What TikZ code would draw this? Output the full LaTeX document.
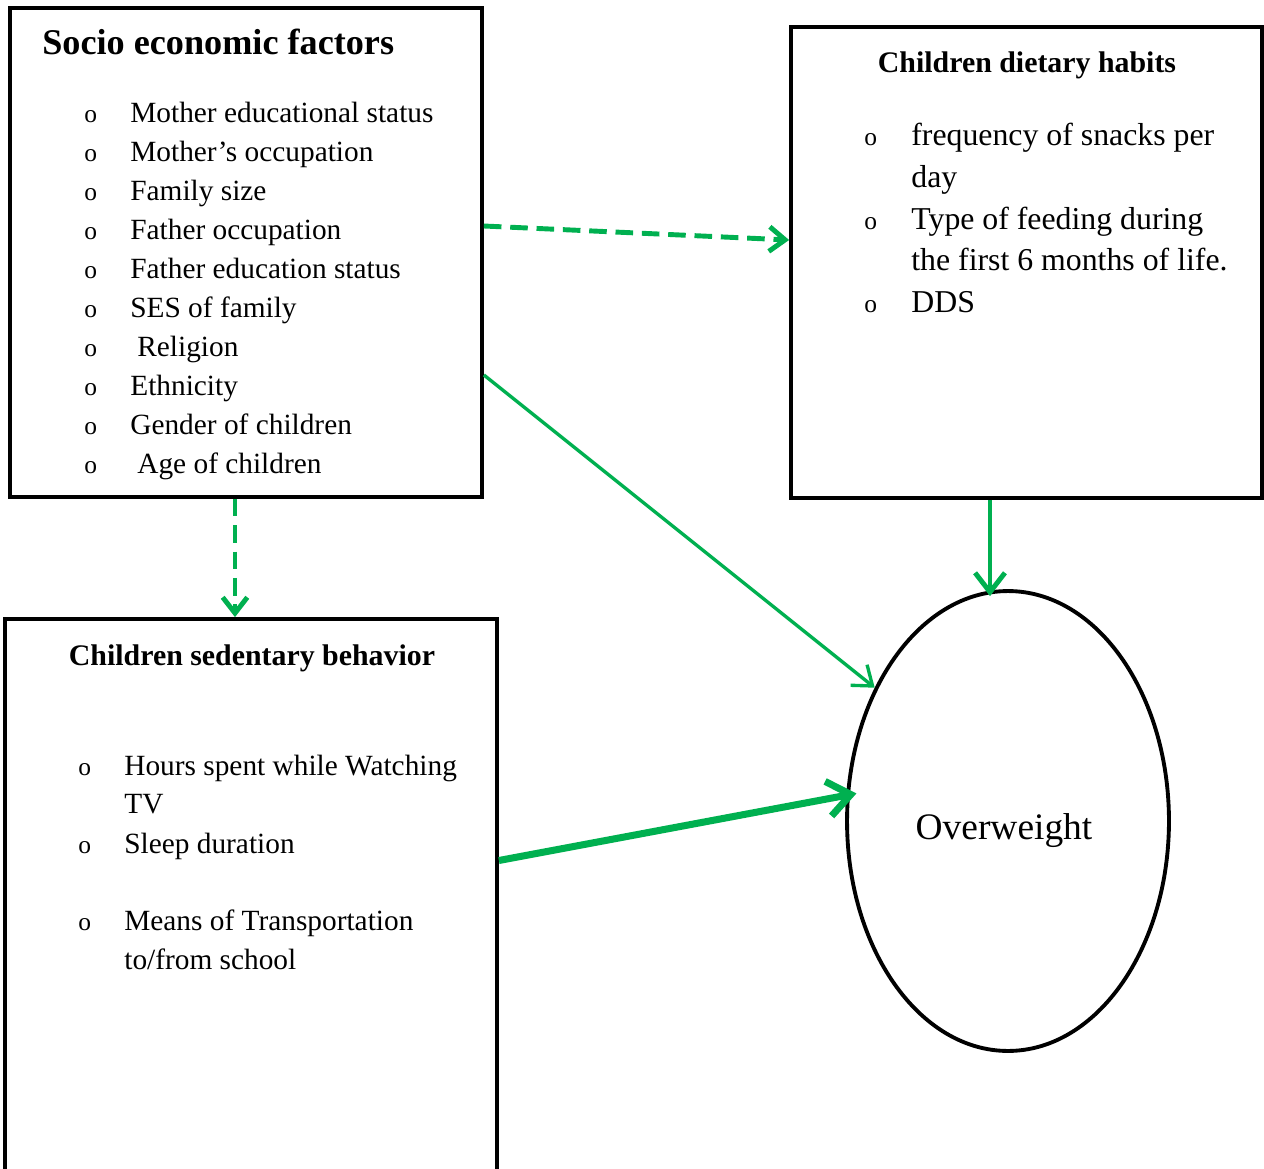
\documentclass[tikz,border=0pt]{standalone}
\usepackage{fontspec}
\setmainfont{Liberation Serif}
\usetikzlibrary{arrows.meta,shapes.geometric}
\definecolor{arrowgreen}{HTML}{00B050}

\begin{document}
\begin{tikzpicture}
[x=0.02cm, y=-0.02cm, % pixel grid of the figure
box/.style={draw, rectangle, line width=2.2pt, inner sep=0pt},
title/.style={font=\fontsize{17}{20}\selectfont\bfseries, inner sep=0pt},
item/.style={anchor=base west, inner sep=0pt, font=\fontsize{16.7}{20}\selectfont},
dotitem/.style={item, font=\fontsize{14.5}{18}\selectfont},
link/.style={arrowgreen, line width=2.8pt, -{Straight Barb[length=11pt, width=17pt]}},
dashlink/.style={link, dash pattern=on 10pt off 5pt, -{Straight Barb[length=9pt, width=14pt]}}]
\useasboundingbox (0,0) rectangle (1264,1169);
\clip (0,0) rectangle (1264,1169);

% boxes
\node[box, minimum width=9.44cm, minimum height=9.78cm] (soc) at (246,252.5) {};
\node[box, minimum width=9.42cm, minimum height=9.42cm] (diet) at (1026.5,262.5) {};
\node[box, minimum width=9.84cm, minimum height=11.44cm] (sed) at (251,905) {};
\node[draw, ellipse, line width=2.2pt, minimum width=6.44cm, minimum height=9.2cm] (ow) at (1008,821) {};

% titles
\node[title, font=\fontsize{20.6}{24}\selectfont\bfseries, anchor=base west] (soctitle) at (42,55) {Socio economic factors};
\node[title, anchor=base] (diettitle) at (1027,73) {Children dietary habits};
\node[title, anchor=base] (sedtitle) at (252,665) {Children sedentary behavior};
\node[font=\fontsize{21.3}{25}\selectfont] (owtext) at (1004,831) {Overweight};

% socio economic items
\foreach \t [count=\i] in {Mother educational status, Mother’s occupation, Family size,
  Father occupation, Father education status, SES of family, \hspace{4pt}Religion,
  Ethnicity, Gender of children, \hspace{4pt}Age of children}{
  \node[dotitem] (sb\i) at (84,{84+38.9*\i}) {o};
  \node[item] (s\i) at (130,{84+38.9*\i}) {\t};
}

% dietary items
\foreach \y/\t [count=\i] in {146/frequency of snacks per, 188/day, 230/Type of feeding during,
  271/the first 6 months of life., 312/DDS}{
  \node[item, font=\fontsize{18.1}{22}\selectfont] (d\i) at (911,\y) {\t};
}
\node[dotitem] (db1) at (864,146) {o};
\node[dotitem] (db2) at (864,230) {o};
\node[dotitem] (db3) at (864,312) {o};

% sedentary items
\foreach \y/\t [count=\i] in {775/Hours spent while Watching, 813/TV, 853/Sleep duration,
  930/Means of Transportation, 969/{to/from school}}{
  \node[item] (e\i) at (124,\y) {\t};
}
\node[dotitem] (eb1) at (78,775) {o};
\node[dotitem] (eb2) at (78,853) {o};
\node[dotitem] (eb3) at (78,930) {o};

% connectors
\draw[dashlink] ([yshift=0.53cm]soc.east) -- ([yshift=0.45cm]diet.west);
\draw[dashlink] ([xshift=-0.22cm]soc.south) -- ([xshift=-0.22cm]soc.south |- sed.north);
\draw[link, line width=1.9pt, -{Straight Barb[length=10pt, width=15pt]}] ([yshift=-2.45cm]soc.east) -- (ow.135);
\draw[link, shorten >=-4pt] ([xshift=-0.73cm]diet.south) -- ([xshift=-0.73cm]diet.south |- ow.north);
\draw[link, line width=4pt, shorten >=-6pt, -{Straight Barb[length=13pt, width=20pt]}] ([yshift=0.89cm]sed.east) -- (ow.171);
\end{tikzpicture}
\end{document}
